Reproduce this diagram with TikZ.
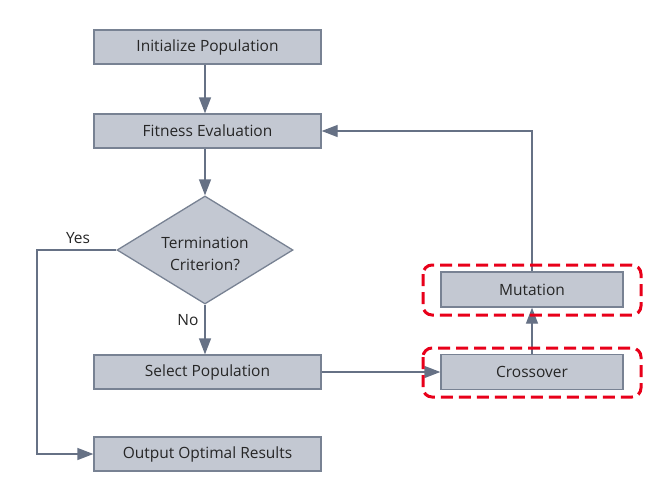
\documentclass[tikz,border=0pt]{standalone}
\usepackage{fontspec}
\setmainfont{Open Sans}
\usetikzlibrary{arrows.meta,shapes.geometric}
\definecolor{boxfill}{HTML}{C3C8D2}
\definecolor{boxline}{HTML}{788293}
\definecolor{arrowc}{HTML}{667185}
\definecolor{dashred}{HTML}{E8001A}
\tikzset{
  procbox/.style={draw=boxline, fill=boxfill, line width=1.3pt, minimum width=227pt, minimum height=34pt, inner sep=0pt, font=\fontsize{15.5}{18}\selectfont, text=black!85},
  smallbox/.style={procbox, minimum width=182pt, minimum height=35pt},
  decision/.style={diamond, draw=boxline, fill=boxfill, line width=1.3pt, inner sep=0pt},
  conn/.style={draw=arrowc, line width=1.3pt, -{Triangle[width=12pt,length=16pt]}},
  group/.style={draw=dashred, line width=3pt, dash pattern=on 12pt off 6pt, rounded corners=9pt},
  lbl/.style={font=\fontsize{15.5}{18}\selectfont, text=black!85}
}
\begin{document}
\begin{tikzpicture}[x=1pt,y=-1pt]
\useasboundingbox (0,0) rectangle (662,488);
\node[procbox] (init) at (207.5,47) {Initialize Population};
\node[procbox] (fit) at (207.5,131) {Fitness Evaluation};
\node[decision, minimum width=176pt, minimum height=108pt] (term) at (205,250) {};
\node[align=center, font=\fontsize{15.5}{22}\selectfont, text=black!85] (termtxt) at (205,254) {Termination\\Criterion?};
\node[procbox] (sel) at (207.5,372) {Select Population};
\node[procbox] (out) at (207.5,454) {Output Optimal Results};
\node[smallbox] (mut) at (532,289.5) {Mutation};
\node[smallbox] (cross) at (532,372) {Crossover};
\coordinate (yesx) at (37,0);
\draw[conn] (init.south -| term.north) -- (fit.north -| term.north);
\draw[conn] (fit.south -| term.north) -- (term.north);
\draw[conn] (term.south) -- (sel.north -| term.south);
\draw[conn] (sel) -- (cross);
\draw[conn] (cross) -- (mut);
\draw[conn] (mut.north) |- (fit.east);
\draw[conn] (term.west) -| (yesx |- out.west) -- (out.west);
\node[lbl] (yes) at (78,238) {Yes};
\node[lbl] (no) at (188,320) {No};
\draw[group] (423,265) rectangle (641,315);
\draw[group] (423,348) rectangle (641,397);
\end{tikzpicture}
\end{document}
